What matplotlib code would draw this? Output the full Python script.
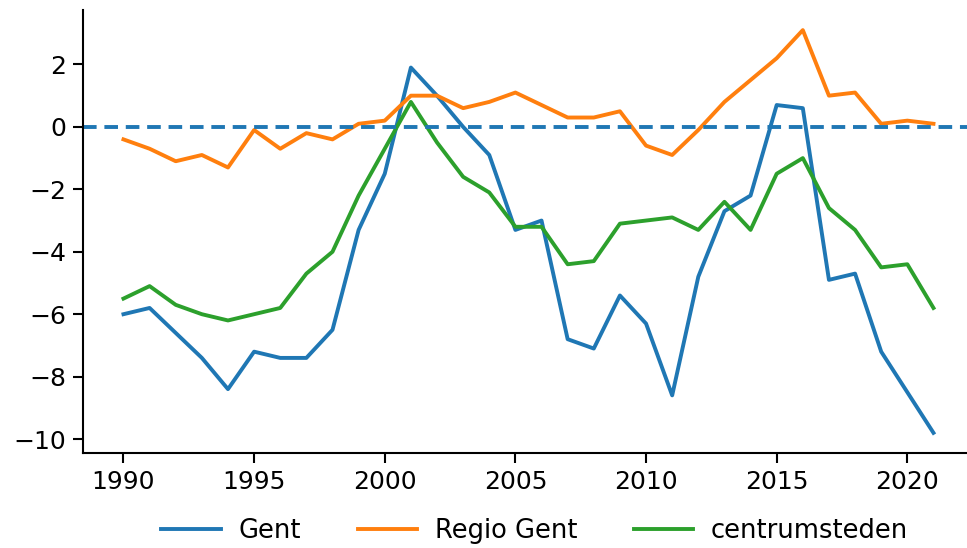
import numpy as np
import matplotlib
matplotlib.use("Agg")
import matplotlib.pyplot as plt

years = list(range(1990, 2022))

gent = [-6.0, -5.8, -6.6, -7.4, -8.4, -7.2, -7.4, -7.4, -6.5, -3.3,
        -1.5, 1.9, 1.0, 0.0, -0.9, -3.3, -3.0, -6.8, -7.1, -5.4,
        -6.3, -8.6, -4.8, -2.7, -2.2, 0.7, 0.6, -4.9, -4.7, -7.2,
        -8.5, -9.8]
regio_gent = [-0.4, -0.7, -1.1, -0.9, -1.3, -0.1, -0.7, -0.2, -0.4, 0.1,
              0.2, 1.0, 1.0, 0.6, 0.8, 1.1, 0.7, 0.3, 0.3, 0.5,
              -0.6, -0.9, -0.1, 0.8, 1.5, 2.2, 3.1, 1.0, 1.1, 0.1,
              0.2, 0.1]
centrumsteden = [-5.5, -5.1, -5.7, -6.0, -6.2, -6.0, -5.8, -4.7, -4.0, -2.2,
                 -0.7, 0.8, -0.5, -1.6, -2.1, -3.2, -3.2, -4.4, -4.3, -3.1,
                 -3.0, -2.9, -3.3, -2.4, -3.3, -1.5, -1.0, -2.6, -3.3, -4.5,
                 -4.4, -5.8]

fig = plt.figure(figsize=(9.67, 5.48), dpi=100)
# axes run slightly past the right edge of the figure
ax = fig.add_axes([0.0858, 0.1734, 0.9214, 0.8084])

lw = 2.8
ax.plot(years, gent, color="tab:blue", lw=lw, label="Gent")
ax.plot(years, regio_gent, color="tab:orange", lw=lw, label="Regio Gent")
ax.plot(years, centrumsteden, color="tab:green", lw=lw, label="centrumsteden")
ax.axhline(0, color="tab:blue", ls=(0, (3.5, 2)), lw=lw)

ax.set_xlim(1988.45, 2022.55)
ax.set_ylim(-10.445, 3.745)
ax.set_xticks(range(1990, 2021, 5))
ax.set_yticks(range(-10, 3, 2))
ax.tick_params(labelsize=18, width=1.5, length=7, pad=5)
for side in ("top", "right"):
    ax.spines[side].set_visible(False)
for side in ("left", "bottom"):
    ax.spines[side].set_linewidth(1.5)

fig.legend(loc="lower center", bbox_to_anchor=(0.553, -0.035), ncol=3,
           frameon=False, fontsize=18.5, columnspacing=2.2,
           handlelength=2.3, handletextpad=0.7)

fig.savefig("out.png", dpi=100)
